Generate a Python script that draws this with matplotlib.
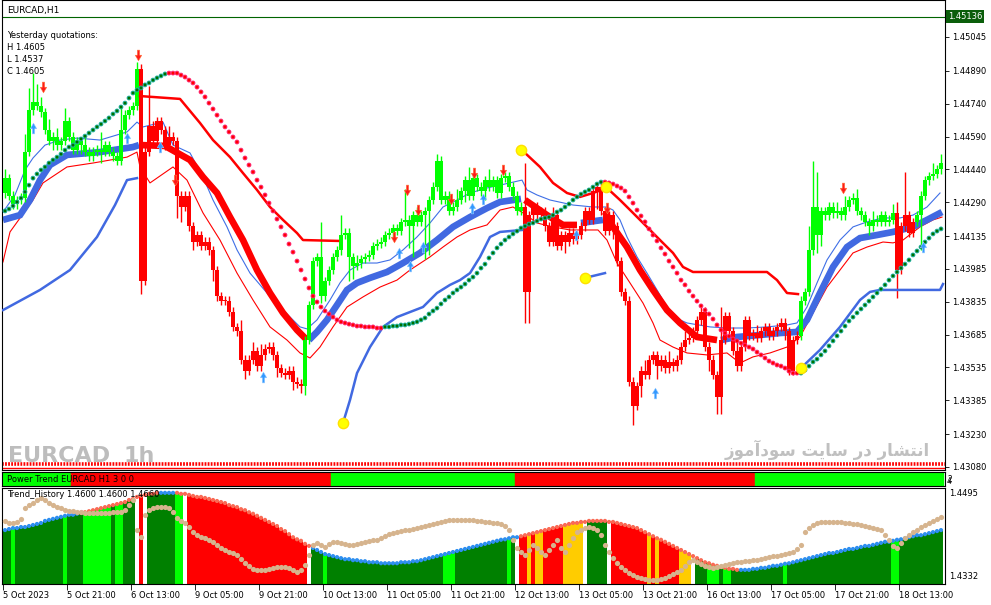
import matplotlib
matplotlib.use("Agg")
import matplotlib.pyplot as plt
from matplotlib.path import Path
import numpy as np

plt.rcParams['font.family'] = ['DejaVu Sans']

W, H = 991, 605

# ---------------- main chart data (EURCAD H1) ----------------
first_open = 1.4433
closes = [
    1.4440, 1.4432, 1.4428, 1.4430, 1.4431, 1.4452, 1.4471, 1.4475, 1.4473, 1.4470,
    1.4462, 1.4457, 1.4459, 1.4455, 1.4457, 1.4466, 1.4459, 1.4453, 1.4457, 1.4455,
    1.4452, 1.4450, 1.4452, 1.4453, 1.4452, 1.4455, 1.4452, 1.4450, 1.4448, 1.4462,
    1.4469, 1.4471, 1.4473, 1.4490, 1.4393, 1.4452, 1.4464, 1.4457, 1.4466, 1.4462,
    1.4455, 1.4459, 1.4457, 1.4432, 1.4427, 1.4432, 1.4418, 1.4411, 1.4414, 1.4409,
    1.4411, 1.4407, 1.4398, 1.4386, 1.4384, 1.4384, 1.4379, 1.4372, 1.4370, 1.4357,
    1.4352, 1.4357, 1.4361, 1.4354, 1.4359, 1.4362, 1.4363, 1.4359, 1.4353, 1.4351,
    1.4350, 1.4352, 1.4347, 1.4346, 1.4345, 1.4366, 1.4382, 1.4402, 1.4404, 1.4386,
    1.4393, 1.4398, 1.4404, 1.4407, 1.4414, 1.4415, 1.4404, 1.4400, 1.4401, 1.4403,
    1.4404, 1.4405, 1.4409, 1.4410, 1.4411, 1.4414, 1.4415, 1.4417, 1.4416, 1.4420,
    1.4421, 1.4418, 1.4423, 1.4420, 1.4423, 1.4425, 1.4430, 1.4436, 1.4448, 1.4430,
    1.4432, 1.4425, 1.4427, 1.4430, 1.4434, 1.4439, 1.4432, 1.4440, 1.4436, 1.4434,
    1.4439, 1.4436, 1.4439, 1.4433, 1.4440, 1.4441, 1.4436, 1.4432, 1.4425, 1.4427,
    1.4388, 1.4423, 1.4427, 1.4423, 1.4425, 1.4418, 1.4411, 1.4423, 1.4409, 1.4414,
    1.4411, 1.4415, 1.4412, 1.4414, 1.4418, 1.4425, 1.4421, 1.4434, 1.4436, 1.4425,
    1.4416, 1.4423, 1.4418, 1.4402, 1.4388, 1.4384, 1.4347, 1.4336, 1.4345, 1.4352,
    1.4350, 1.4357, 1.4359, 1.4354, 1.4357, 1.4353, 1.4356, 1.4354, 1.4357, 1.4363,
    1.4366, 1.4367, 1.4370, 1.4375, 1.4379, 1.4363, 1.4357, 1.4350, 1.4340, 1.4366,
    1.4377, 1.4370, 1.4361, 1.4354, 1.4363, 1.4375, 1.4368, 1.4369, 1.4367, 1.4370,
    1.4372, 1.4368, 1.4370, 1.4372, 1.4374, 1.4370, 1.4352, 1.4366, 1.4368, 1.4384,
    1.4388, 1.4407, 1.4427, 1.4414, 1.4425, 1.4423, 1.4427, 1.4424, 1.4425, 1.4423,
    1.4427, 1.4430, 1.4431, 1.4425, 1.4423, 1.4420, 1.4418, 1.4421, 1.4420, 1.4423,
    1.4420, 1.4421, 1.4424, 1.4398, 1.4418, 1.4423, 1.4415, 1.4420, 1.4423, 1.4432,
    1.4439, 1.4441, 1.4442, 1.4444, 1.4447,
]
# wick lengths in pips above / below the body
wick_up = [
    4, 2, 2, 2, 2, 8, 10, 13, 8, 4, 2, 5, 2, 4, 2, 6, 2, 2, 2, 2,
    4, 2, 2, 2, 8, 2, 2, 2, 2, 11, 2, 2, 2, 3, 2, 2, 18, 2, 2, 2,
    2, 5, 2, 2, 2, 2, 2, 2, 2, 2, 2, 2, 2, 2, 2, 2, 2, 2, 2, 5,
    2, 2, 4, 2, 5, 2, 2, 2, 2, 2, 2, 2, 2, 2, 2, 2, 2, 2, 2, 16,
    2, 2, 2, 2, 9, 2, 2, 2, 4, 2, 2, 2, 2, 2, 2, 2, 2, 2, 2, 2,
    14, 2, 2, 4, 2, 2, 2, 2, 3, 2, 2, 2, 2, 5, 2, 2, 6, 2, 2, 2,
    2, 5, 2, 2, 2, 2, 2, 2, 2, 2, 20, 2, 2, 2, 2, 2, 2, 4, 2, 2,
    2, 2, 2, 2, 2, 2, 2, 3, 2, 2, 2, 2, 2, 2, 2, 2, 2, 2, 2, 2,
    5, 2, 2, 2, 2, 2, 5, 2, 2, 2, 4, 2, 2, 2, 2, 2, 2, 2, 2, 15,
    2, 2, 2, 5, 2, 2, 2, 2, 4, 2, 2, 2, 2, 2, 2, 2, 2, 2, 2, 2,
    2, 11, 21, 16, 2, 2, 2, 2, 4, 2, 5, 2, 2, 4, 2, 2, 2, 4, 2, 2,
    2, 2, 4, 5, 2, 20, 2, 2, 2, 2, 2, 2, 5, 2, 4,
]
wick_dn = [
    2, 2, 2, 2, 2, 2, 2, 2, 2, 2, 2, 2, 4, 2, 2, 2, 2, 2, 2, 4,
    2, 2, 2, 2, 5, 2, 2, 2, 2, 2, 2, 2, 2, 2, 6, 2, 2, 2, 2, 2,
    2, 2, 2, 10, 7, 2, 2, 4, 2, 2, 2, 2, 5, 2, 2, 2, 2, 2, 2, 2,
    4, 2, 2, 2, 2, 2, 2, 2, 4, 2, 2, 2, 4, 2, 3, 4, 2, 2, 2, 3,
    2, 2, 2, 2, 2, 2, 11, 6, 2, 2, 2, 2, 2, 2, 2, 2, 2, 2, 2, 2,
    2, 10, 14, 2, 2, 20, 20, 2, 2, 2, 2, 2, 2, 2, 2, 5, 2, 2, 2, 2,
    4, 2, 2, 2, 2, 2, 2, 2, 2, 2, 14, 14, 2, 2, 2, 2, 2, 2, 2, 2,
    5, 2, 2, 2, 2, 2, 2, 2, 8, 2, 2, 2, 6, 2, 2, 2, 2, 9, 2, 5,
    2, 2, 2, 6, 2, 2, 2, 2, 2, 2, 2, 2, 2, 2, 2, 2, 5, 2, 8, 8,
    2, 2, 2, 2, 2, 2, 2, 2, 2, 2, 2, 2, 2, 2, 2, 4, 2, 2, 2, 2,
    2, 2, 2, 8, 5, 2, 2, 2, 2, 2, 2, 2, 2, 2, 2, 2, 4, 2, 2, 2,
    2, 2, 2, 13, 2, 2, 2, 2, 2, 16, 2, 2, 2, 2, 2,
]
candle_runs = [("g", 34), ("r", 41), ("g", 55), ("r", 69), ("g", 24), ("r", 5), ("g", 7)]

sar = [
    1.44250, 1.44259, 1.44273, 1.44291, 1.44309, 1.44337, 1.44368, 1.44400, 1.44419, 1.44437,
    1.44451, 1.44469, 1.44483, 1.44496, 1.44510, 1.44528, 1.44542, 1.44551, 1.44565, 1.44579,
    1.44592, 1.44606, 1.44620, 1.44634, 1.44647, 1.44661, 1.44675, 1.44693, 1.44707, 1.44725,
    1.44743, 1.44766, 1.44789, 1.44803, 1.44812, 1.44826, 1.44835, 1.44848, 1.44858, 1.44867,
    1.44876, 1.44880, 1.44880, 1.44880, 1.44871, 1.44862, 1.44848, 1.44835, 1.44816, 1.44794,
    1.44771, 1.44743, 1.44716, 1.44688, 1.44661, 1.44634, 1.44611, 1.44588, 1.44565,
    1.44528, 1.44492, 1.44460, 1.44428, 1.44391, 1.44359, 1.44323, 1.44286, 1.44250, 1.44213,
    1.44177, 1.44140, 1.44099, 1.44062, 1.44021, 1.43980, 1.43939, 1.43898, 1.43861, 1.43834,
    1.43811, 1.43793, 1.43779, 1.43765, 1.43752, 1.43743, 1.43738, 1.43733, 1.43729, 1.43724,
    1.43724, 1.43720, 1.43720, 1.43720, 1.43715, 1.43715,
    1.43720, 1.43720, 1.43724, 1.43724, 1.43729, 1.43729, 1.43733, 1.43738, 1.43743, 1.43752,
    1.43761, 1.43779, 1.43793, 1.43806, 1.43825, 1.43843, 1.43857, 1.43875, 1.43889, 1.43902,
    1.43916, 1.43934, 1.43948, 1.43966, 1.43989, 1.44007, 1.44035, 1.44058, 1.44081, 1.44099,
    1.44117, 1.44131, 1.44145, 1.44158, 1.44172, 1.44181, 1.44190, 1.44195, 1.44204, 1.44213,
    1.44218, 1.44222, 1.44231, 1.44245, 1.44254, 1.44268, 1.44282, 1.44300, 1.44314, 1.44327,
    1.44337, 1.44346, 1.44359, 1.44373, 1.44382,
    1.44382, 1.44378, 1.44373, 1.44364, 1.44355, 1.44341, 1.44314, 1.44286, 1.44254, 1.44227,
    1.44200, 1.44168, 1.44140, 1.44113, 1.44081, 1.44053, 1.44021, 1.43994, 1.43966, 1.43934,
    1.43912, 1.43884, 1.43861, 1.43838, 1.43816, 1.43797, 1.43779, 1.43756, 1.43729, 1.43706,
    1.43692, 1.43678, 1.43665, 1.43656, 1.43646, 1.43637, 1.43628, 1.43619, 1.43605, 1.43592,
    1.43578, 1.43564, 1.43555, 1.43546, 1.43541, 1.43532, 1.43518, 1.43509, 1.43509,
    1.43509, 1.43523, 1.43541, 1.43560, 1.43573, 1.43592, 1.43610, 1.43633, 1.43656, 1.43679,
    1.43701, 1.43724, 1.43747, 1.43765, 1.43784, 1.43802, 1.43820, 1.43838, 1.43857, 1.43875,
    1.43893, 1.43912, 1.43934, 1.43953, 1.43971, 1.43989, 1.44007, 1.44026, 1.44049, 1.44067,
    1.44085, 1.44108, 1.44126, 1.44145, 1.44158, 1.44168,
]
sar_runs = [("g", 41), ("r", 54), ("g", 55), ("r", 49), ("g", 36)]

# envelope lines (vertices: bar index, price)
thin_blue_x = [-0.5, 2.5, 5, 7, 10, 13.75, 18, 23.75, 30.5, 33, 34.5, 39.5, 42, 46.25, 49.5,
               52, 55.5, 58, 61.25, 65.5, 69.5, 73.75, 75.5, 78, 81.25, 83.75, 86.25, 89.5, 93,
               96.25, 99.5, 103, 106.25, 109.5, 113, 116.25, 120.5, 123.75, 129.25, 130.5, 133,
               136.25, 142, 147, 150.5, 152, 153.75, 155.5, 158, 160.5, 163, 165.5, 168.75, 170.5,
               176.25, 180.5, 185.5, 190.5, 195.5, 198, 200.5, 203, 205.5, 208.75, 212, 215.5,
               219.5, 223.75, 227, 230.5, 233.75]
thin_blue_y = [1.44245, 1.44323, 1.44437, 1.44492, 1.44551, 1.44574, 1.44583, 1.44574, 1.44611,
               1.44656, 1.44634, 1.44656, 1.44551, 1.44515, 1.44405, 1.44300, 1.44177, 1.44072,
               1.43966, 1.43875, 1.43797, 1.43720, 1.43711, 1.43752, 1.43843, 1.43921, 1.43980,
               1.44012, 1.44012, 1.44026, 1.44072, 1.44131, 1.44195, 1.44268, 1.44300, 1.44332,
               1.44355, 1.44368, 1.44391, 1.44346, 1.44323, 1.44300, 1.44277, 1.44268, 1.44268,
               1.44254, 1.44209, 1.44131, 1.44040, 1.43966, 1.43889, 1.43811, 1.43752, 1.43738,
               1.43720, 1.43715, 1.43715, 1.43720, 1.43729, 1.43738, 1.43811, 1.43921, 1.44026,
               1.44117, 1.44177, 1.44200, 1.44218, 1.44218, 1.44231, 1.44268, 1.44332]
thin_red_x = [-0.5, 1.25, 7, 9.5, 15.5, 22, 30.5, 33, 33.75, 36.25, 42, 45.5, 49.5, 53.75, 58,
              62, 66.25, 70.5, 73.75, 76.25, 78.75, 82, 85.5, 89.5, 93.75, 98, 101.25, 106.25,
              109.5, 113, 116.25, 120.5, 123.75, 127, 129.5, 133, 137, 141.25, 148.25, 150.5, 153,
              156.25, 159.5, 162, 163.75, 167, 170.5, 175.5, 180.5, 183.75, 187, 191.25, 195.5,
              198.75, 202, 205.5, 208.75, 212, 215.5, 219.5, 222, 224.5, 228.75, 232, 234.25]
thin_red_y = [1.44017, 1.44154, 1.44300, 1.44378, 1.44451, 1.44469, 1.44496, 1.44519, 1.44451,
              1.44378, 1.44451, 1.44391, 1.44241, 1.44117, 1.43966, 1.43843, 1.43720, 1.43660,
              1.43601, 1.43578, 1.43628, 1.43720, 1.43811, 1.43857, 1.43902, 1.43934, 1.43980,
              1.44040, 1.44085, 1.44131, 1.44163, 1.44186, 1.44254, 1.44268, 1.44241, 1.44195,
              1.44177, 1.44163, 1.44163, 1.44117, 1.44012, 1.43921, 1.43829, 1.43738, 1.43660,
              1.43628, 1.43601, 1.43592, 1.43601, 1.43555, 1.43583, 1.43601, 1.43628, 1.43674,
              1.43784, 1.43902, 1.43980, 1.44058, 1.44085, 1.44108, 1.44104, 1.44117, 1.44177,
              1.44209, 1.44222]

nan = float("nan")
band_x = [-0.5, 3.75, 6.25, 8.75, 11.25, 15.5, 23.75, 32, 33.5, nan,
          34, 40, 46.25, 49.5, 53, 56.25, 59.5, 63, 66.25, 69.5, 73, 75.5, nan,
          76, 78, 80.5, 83, 85.5, 88, 91.25, 95.5, 99.5, 103.75, 108, 112, 116.25, 120.5, 123.75, 129, nan,
          130, 135.5, 139.5, 143, nan,
          144, 149.5, nan,
          150, 152, 155.5, 158.75, 162, 165.5, 168.75, 173, 178, nan,
          179, 183, 188.75, 193.75, 198, 200.5, 203.75, 207, 210.5, 213.75, 218, 222, 227, 230.5, 234.25]
band_y = [1.44209, 1.44231, 1.44300, 1.44391, 1.44460, 1.44506, 1.44519, 1.44542, 1.44551, nan,
          1.44551, 1.44547, 1.44483, 1.44405, 1.44332, 1.44222, 1.44117, 1.43980, 1.43875, 1.43784,
          1.43706, 1.43660, nan,
          1.43660, 1.43697, 1.43752, 1.43820, 1.43889, 1.43921, 1.43944, 1.43971, 1.44012, 1.44058,
          1.44117, 1.44177, 1.44222, 1.44263, 1.44291, 1.44305, nan,
          1.44300, 1.44231, 1.44186, 1.44186, nan,
          1.44195, 1.44209, nan,
          1.44245, 1.44177, 1.44085, 1.43980, 1.43889, 1.43797, 1.43738, 1.43674, 1.43660, nan,
          1.43660, 1.43674, 1.43683, 1.43692, 1.43697, 1.43752, 1.43875, 1.43994, 1.44085, 1.44126,
          1.44140, 1.44154, 1.44177, 1.44209, 1.44245]
band_colors = ["b", "r", "b", "r", "b", "r", "b"]

stop_hi_x = [33.75, 43.75, 48.75, 52, 56.25, 59.5, 63, 66.25, 69.5, 73, 74.5, 83.25, nan,
             130, 133.75, 137, 140.5, 143.75, 147, 150.5, 153.75, 157, 160.5, 163.75, 167, 169.5,
             172, 190.5, 193, 195.5, 198.25]
stop_hi_y = [1.44775, 1.44762, 1.44652, 1.44574, 1.44496, 1.44423, 1.44346, 1.44268, 1.44209,
             1.44149, 1.44117, 1.44113, nan,
             1.44515, 1.44451, 1.44378, 1.44332, 1.44314, 1.44332, 1.44355, 1.44300, 1.44241,
             1.44177, 1.44117, 1.44058, 1.43994, 1.43971, 1.43971, 1.43934, 1.43875, 1.43870]
stop_lo_x = [-0.5, 8.75, 16.25, 23, 27.5, 30.5, 33, nan,
             84.5, 86.25, 88, 91.25, 94.5, 98, 101.25, 104.5, 108, 111.25, 113.75, 116.25, 118.75,
             121.25, 123.75, 129.25, nan, 145, 150, nan,
             199, 203.75, 208.75, 213.75, 216.25, 218.75, 233.75, 234.5]
stop_lo_y = [1.43797, 1.43889, 1.43980, 1.44131, 1.44277, 1.44391, 1.44400, nan,
             1.43281, 1.43386, 1.43509, 1.43628, 1.43720, 1.43765, 1.43788, 1.43811, 1.43875,
             1.43912, 1.43934, 1.43966, 1.44040, 1.44131, 1.44154, 1.44163, nan,
             1.43944, 1.43966, nan,
             1.43532, 1.43615, 1.43720, 1.43843, 1.43880, 1.43889, 1.43889, 1.43916]

signal_x = [84.5, 129, 145, 150.25, 199]
signal_y = [1.43281, 1.44529, 1.43944, 1.44359, 1.43532]

arrow_dn_x = [9.5, 33.25, 42.5, 97.25, 100.5, 103.25, 111.5, 117.25, 124.5, 150.5, 209.5]
arrow_dn_y = [1.44816, 1.44963, 1.44391, 1.44131, 1.44346, 1.44254, 1.44305, 1.44423, 1.44437,
              1.44263, 1.44355]
arrow_up_x = [7, 30.5, 38.75, 64.5, 98.5, 101.25, 104.5, 116.75, 119.5, 142.75, 162.5, 229.5]
arrow_up_y = [1.44629, 1.44583, 1.44542, 1.43491, 1.44058, 1.43999, 1.44085, 1.44263, 1.44305,
              1.44140, 1.43418, 1.44085]

bid = 1.45136
price_ticks = [1.45045, 1.44890, 1.44740, 1.44590, 1.44440, 1.44290, 1.44135,
               1.43985, 1.43835, 1.43685, 1.43535, 1.43385, 1.43230, 1.43080]

# ---------------- Power Trend panel ----------------
pt_runs = [("g", 17), ("r", 65), ("g", 46), ("r", 60), ("g", 47)]

# ---------------- Trend_History panel ----------------
th_runs = [("G", 2), ("L", 1), ("G", 12), ("L", 1), ("G", 4), ("L", 7), ("G", 1), ("L", 2),
           ("G", 3), ("W", 1), ("R", 1), ("W", 1), ("G", 7), ("L", 2), ("W", 1), ("R", 30),
           ("W", 1), ("G", 3), ("L", 1), ("G", 29), ("L", 3), ("G", 13), ("L", 1), ("G", 1),
           ("W", 1), ("R", 2), ("Y", 1), ("R", 1), ("Y", 2), ("R", 5), ("Y", 5), ("W", 1),
           ("G", 5), ("W", 1), ("R", 9), ("Y", 1), ("R", 1), ("Y", 1), ("R", 5), ("Y", 3),
           ("W", 1), ("G", 3), ("L", 3), ("G", 1), ("L", 2), ("G", 13), ("L", 1), ("G", 26),
           ("L", 2), ("G", 11)]
th_level = [
    1.4422, 1.4424, 1.4426, 1.4426, 1.4428, 1.4428, 1.4430, 1.4432, 1.4434, 1.4436,
    1.4440, 1.4442, 1.4444, 1.4446, 1.4448, 1.4450, 1.4452, 1.4452, 1.4454, 1.4456,
    1.4457, 1.4459, 1.4461, 1.4463, 1.4465, 1.4467, 1.4469, 1.4471, 1.4473, 1.4475,
    1.4477, 1.4481, 1.4483, 1.4487, 1.4489, 1.4491, 1.4493, 1.4493, 1.4495, 1.4495,
    1.4495, 1.4495, 1.4495, 1.4495, 1.4493, 1.4493, 1.4491, 1.4489, 1.4487, 1.4487,
    1.4485, 1.4483, 1.4481, 1.4479, 1.4477, 1.4475, 1.4471, 1.4469, 1.4467, 1.4463,
    1.4461, 1.4457, 1.4454, 1.4450, 1.4446, 1.4442, 1.4438, 1.4434, 1.4430, 1.4424,
    1.4420, 1.4414, 1.4408, 1.4404, 1.4401, 1.4395, 1.4391, 1.4387, 1.4383, 1.4379,
    1.4375, 1.4373, 1.4371, 1.4369, 1.4367, 1.4365, 1.4365, 1.4363, 1.4363, 1.4361,
    1.4361, 1.4359, 1.4359, 1.4359, 1.4357, 1.4357, 1.4357, 1.4357, 1.4357, 1.4359,
    1.4359, 1.4359, 1.4361, 1.4361, 1.4363, 1.4365, 1.4367, 1.4369, 1.4371, 1.4373,
    1.4375, 1.4377, 1.4379, 1.4381, 1.4383, 1.4385, 1.4387, 1.4389, 1.4391, 1.4393,
    1.4395, 1.4397, 1.4399, 1.4401, 1.4403, 1.4404, 1.4406, 1.4408, 1.4408, 1.4410,
    1.4412, 1.4414, 1.4416, 1.4418, 1.4420, 1.4422, 1.4424, 1.4426, 1.4428, 1.4430,
    1.4432, 1.4434, 1.4436, 1.4436, 1.4438, 1.4438, 1.4440, 1.4440, 1.4440, 1.4440,
    1.4440, 1.4438, 1.4438, 1.4436, 1.4434, 1.4432, 1.4430, 1.4428, 1.4426, 1.4422,
    1.4418, 1.4414, 1.4410, 1.4406, 1.4403, 1.4399, 1.4395, 1.4391, 1.4387, 1.4383,
    1.4379, 1.4375, 1.4371, 1.4367, 1.4363, 1.4359, 1.4357, 1.4354, 1.4352, 1.4350,
    1.4348, 1.4346, 1.4346, 1.4344, 1.4344, 1.4344, 1.4344, 1.4346, 1.4346, 1.4348,
    1.4348, 1.4350, 1.4352, 1.4352, 1.4354, 1.4356, 1.4357, 1.4359, 1.4361, 1.4363,
    1.4365, 1.4367, 1.4369, 1.4371, 1.4373, 1.4375, 1.4377, 1.4377, 1.4379, 1.4381,
    1.4383, 1.4385, 1.4385, 1.4387, 1.4389, 1.4391, 1.4391, 1.4393, 1.4395, 1.4397,
    1.4399, 1.4399, 1.4401, 1.4403, 1.4404, 1.4406, 1.4408, 1.4410, 1.4412, 1.4412,
    1.4414, 1.4416, 1.4418, 1.4420, 1.4422,
]
th_dot_runs = [("b", 19), ("s", 20), ("b", 4), ("s", 34), ("b", 52), ("s", 55), ("b", 51)]
th_price = [
    1.4440, 1.4436, 1.4436, 1.4438, 1.4444, 1.4465, 1.4471, 1.4475, 1.4481, 1.4485,
    1.4481, 1.4475, 1.4471, 1.4467, 1.4465, 1.4461, 1.4459, 1.4459, 1.4457, 1.4457,
    1.4456, 1.4456, 1.4456, 1.4456, 1.4456, 1.4456, 1.4456, 1.4457, 1.4457, 1.4457,
    1.4461, 1.4471, 1.4481, 1.4422, 1.4408, 1.4452, 1.4461, 1.4465, 1.4467, 1.4467,
    1.4467, 1.4465, 1.4457, 1.4446, 1.4440, 1.4436, 1.4428, 1.4418, 1.4412, 1.4408,
    1.4406, 1.4403, 1.4399, 1.4393, 1.4387, 1.4383, 1.4379, 1.4377, 1.4373, 1.4365,
    1.4357, 1.4352, 1.4346, 1.4344, 1.4344, 1.4344, 1.4346, 1.4348, 1.4350, 1.4350,
    1.4350, 1.4348, 1.4344, 1.4340, 1.4344, 1.4354, 1.4373, 1.4393, 1.4397, 1.4393,
    1.4389, 1.4395, 1.4399, 1.4399, 1.4397, 1.4395, 1.4393, 1.4393, 1.4395, 1.4397,
    1.4399, 1.4401, 1.4403, 1.4403, 1.4406, 1.4410, 1.4414, 1.4416, 1.4418, 1.4420,
    1.4422, 1.4422, 1.4424, 1.4426, 1.4428, 1.4430, 1.4432, 1.4434, 1.4436, 1.4438,
    1.4440, 1.4442, 1.4442, 1.4442, 1.4442, 1.4442, 1.4442, 1.4442, 1.4440, 1.4440,
    1.4438, 1.4438, 1.4436, 1.4436, 1.4434, 1.4430, 1.4422, 1.4403, 1.4387, 1.4379,
    1.4373, 1.4383, 1.4393, 1.4387, 1.4379, 1.4373, 1.4383, 1.4393, 1.4403, 1.4387,
    1.4379, 1.4393, 1.4406, 1.4418, 1.4422, 1.4426, 1.4428, 1.4426, 1.4422, 1.4412,
    1.4393, 1.4379, 1.4367, 1.4357, 1.4350, 1.4344, 1.4338, 1.4334, 1.4330, 1.4328,
    1.4326, 1.4324, 1.4324, 1.4324, 1.4326, 1.4328, 1.4332, 1.4336, 1.4340, 1.4344,
    1.4352, 1.4359, 1.4363, 1.4359, 1.4356, 1.4352, 1.4350, 1.4348, 1.4350, 1.4352,
    1.4354, 1.4356, 1.4357, 1.4359, 1.4359, 1.4361, 1.4361, 1.4363, 1.4363, 1.4365,
    1.4367, 1.4369, 1.4371, 1.4371, 1.4373, 1.4375, 1.4377, 1.4379, 1.4385, 1.4393,
    1.4418, 1.4426, 1.4432, 1.4436, 1.4438, 1.4438, 1.4438, 1.4438, 1.4438, 1.4438,
    1.4436, 1.4436, 1.4434, 1.4434, 1.4432, 1.4430, 1.4428, 1.4426, 1.4424, 1.4422,
    1.4412, 1.4403, 1.4391, 1.4387, 1.4397, 1.4406, 1.4412, 1.4418, 1.4422, 1.4428,
    1.4432, 1.4436, 1.4440, 1.4444, 1.4448,
]

time_tick_bars = [0, 16, 32, 48, 64, 80, 96, 112, 128, 144, 160, 176, 192, 208, 224]
time_labels = ["5 Oct 2023", "5 Oct 21:00", "6 Oct 13:00", "9 Oct 05:00", "9 Oct 21:00",
               "10 Oct 13:00", "11 Oct 05:00", "11 Oct 21:00", "12 Oct 13:00", "13 Oct 05:00",
               "13 Oct 21:00", "16 Oct 13:00", "17 Oct 05:00", "17 Oct 21:00", "18 Oct 13:00"]


def runs(spec):
    out = []
    for c, n in spec:
        out += [c] * n
    return out


def box(x0, y0, x1, y1):
    # pixel box -> figure fraction
    return [x0 / W, 1 - y1 / H, (x1 - x0) / W, (y1 - y0) / H]


def frame(a):
    for s in a.spines.values():
        s.set_color("black")
        s.set_linewidth(0.8)


fig = plt.figure(figsize=(W / 100, H / 100), dpi=100)
XL = (-0.75, 235.0)

# ===== main chart =====
ax = fig.add_axes(box(2, 0, 945, 470))
ax.set_xlim(*XL)
ax.set_ylim(1.430661, 1.452140)
frame(ax)

n = len(closes)
xs = np.arange(n)
opens = np.array([first_open] + closes[:-1])
cl = np.array(closes)
top = np.maximum(opens, cl)
bot = np.minimum(opens, cl)
hi = top + np.array(wick_up) * 0.0001
lo = bot - np.array(wick_dn) * 0.0001
ccol = ["#00ff00" if c == "g" else "#ff0000" for c in runs(candle_runs)]

ax.plot(thin_blue_x, thin_blue_y, color="#3f6fe6", lw=0.8, zorder=1)
ax.plot(thin_red_x, thin_red_y, color="#ff0000", lw=0.8, zorder=1)

# thick trend band, split into coloured pieces
bx, by = np.array(band_x), np.array(band_y)
breaks = np.where(np.isnan(bx))[0]
starts = np.r_[0, breaks + 1]
ends = np.r_[breaks, len(bx)]
for s, e, c in zip(starts, ends, band_colors):
    ax.plot(bx[s:e], by[s:e], color="#4169e1" if c == "b" else "#ff0000",
            lw=4.8, solid_capstyle="butt", solid_joinstyle="miter", zorder=2)

ax.vlines(xs, lo, hi, colors=ccol, lw=1, zorder=3)
ax.bar(xs, np.maximum(top - bot, 0.00003), bottom=bot, width=0.78, color=ccol,
       linewidth=0, zorder=3)

ax.plot(stop_hi_x, stop_hi_y, color="#ff0000", lw=1.8, zorder=4)
ax.plot(stop_lo_x, stop_lo_y, color="#4169e1", lw=1.8, zorder=4)

sc = runs(sar_runs)
ax.scatter(xs, sar, s=8, zorder=5, linewidths=0.6,
           c=["#007000" if c == "g" else "#ff0000" for c in sc],
           edgecolors=["#22b8b0" if c == "g" else "#ff2a80" for c in sc])

ax.scatter(signal_x, signal_y, s=55, color="#ffff00", edgecolors="#ffe000", zorder=7)

dn_path = Path([(-0.22, 1), (0.22, 1), (0.22, 0.05), (0.6, 0.05), (0, -1), (-0.6, 0.05),
                (-0.22, 0.05), (-0.22, 1)], closed=True)
up_path = Path([(x, -y) for x, y in dn_path.vertices], closed=True)
ax.scatter(arrow_dn_x, arrow_dn_y, marker=dn_path, s=60, color="#ff1a1a",
           edgecolors="#ff7a40", linewidths=0.4, zorder=6)
ax.scatter(arrow_up_x, arrow_up_y, marker=up_path, s=60, color="#3399ff",
           edgecolors="#99ccff", linewidths=0.4, zorder=6)

ax.axhline(bid, color="#006400", lw=0.8, zorder=1)
# bottom signal row
ax.axhline(1.43092, color="#ff0000", lw=2.6, dashes=(0.5, 0.35), zorder=2)
ax.axhline(1.43076, color="#ff0000", lw=1.0, zorder=2)

ax.yaxis.tick_right()
ax.set_yticks(price_ticks)
ax.set_yticklabels(["%.5f" % v for v in price_ticks], fontsize=6)
ax.tick_params(axis="y", direction="out", length=3, width=0.6, pad=2)
ax.tick_params(axis="x", bottom=False, labelbottom=False)

# ===== Power Trend panel =====
ax2 = fig.add_axes(box(2, 472, 945, 486))
ax2.set_xlim(*XL)
ax2.set_ylim(0, 1)
frame(ax2)
pos = 0
for c, k in pt_runs:
    ax2.broken_barh([(pos - 0.5, k)], (0, 1), color="#00ff00" if c == "g" else "#ff0000")
    pos += k
ax2.set_xticks([])
ax2.set_yticks([])
ax2.text(0.005, 0.45, "Power Trend EURCAD H1 3 0 0", transform=ax2.transAxes,
         fontsize=6, va="center", ha="left", color="black")
fig.text(947 / W, 1 - 480 / H, "2", fontsize=5.5, va="center", color="black")
fig.text(947 / W, 1 - 481 / H, "4", fontsize=5.5, va="center", color="black")

# ===== Trend_History panel =====
ax3 = fig.add_axes(box(2, 488, 945, 584))
ax3.set_xlim(*XL)
base = 1.431632
ax3.set_ylim(base, 1.450448)
frame(ax3)
hmap = {"G": "#008000", "L": "#00ff00", "R": "#ff0000", "Y": "#ffcc00", "W": "#ffffff"}
lvl = np.array(th_level)
ax3.bar(xs, lvl - base, bottom=base, width=1.0, linewidth=0,
        color=[hmap[c] for c in runs(th_runs)], zorder=1)
ax3.scatter(xs, lvl, s=9, linewidths=0, zorder=3,
            c=["#2e8ff0" if c == "b" else "#fa6a55" for c in runs(th_dot_runs)])
ax3.scatter(xs, th_price, s=14, linewidths=0, color="#d6b48e", zorder=4)
ax3.text(0.005, 0.93, "Trend_History 1.4600 1.4600 1.4660", transform=ax3.transAxes,
         fontsize=6, va="center", ha="left", color="black", zorder=6)
ax3.yaxis.tick_right()
ax3.set_yticks([1.4495, 1.4332])
ax3.set_yticklabels(["1.4495", "1.4332"], fontsize=6)
ax3.tick_params(axis="y", length=0, pad=3)
ax3.set_xticks([b - 0.5 for b in time_tick_bars])
ax3.set_xticklabels(time_labels, fontsize=6, ha="left")
ax3.tick_params(axis="x", direction="out", length=4, width=0.6, pad=1)

# ===== texts =====
fig.text(7 / W, 1 - 11 / H, "EURCAD,H1", fontsize=6.5, va="center")
fig.text(7 / W, 1 - 36 / H, "Yesterday quotations:", fontsize=6, va="center")
fig.text(7 / W, 1 - 47.5 / H, "H 1.4605", fontsize=6, va="center")
fig.text(7 / W, 1 - 59.5 / H, "L 1.4537", fontsize=6, va="center")
fig.text(7 / W, 1 - 71 / H, "C 1.4605", fontsize=6, va="center")
fig.text(948 / W, 1 - 16.5 / H, "1.45136", fontsize=6, va="center", color="white",
         bbox=dict(facecolor="#0b5e0b", edgecolor="none", pad=1.2))

fig.text(8 / W, 1 - 462 / H, "EURCAD", fontsize=16, weight="bold", color="#bdbdbd",
         family=["DejaVu Sans"], va="baseline")
fig.text(123 / W, 1 - 462 / H, "1h", fontsize=16, weight="bold", color="#bdbdbd",
         family=["DejaVu Sans"], va="baseline")
persian = ("\uFEAF\uFEEE\uFEE3\uFE81\uFEA9\uFEEE\uFEB3 \uFE96\uFEF3\uFE8E\uFEB3 "
           "\uFEAD\uFEA9 \uFEAD\uFE8E\uFEB8\uFE98\uFEE7\uFE8D")
fig.text(930 / W, 1 - 450 / H, persian, fontsize=12, weight="bold", color="#c0c0c0",
         ha="right", va="center", family=["DejaVu Sans"])

fig.savefig("out.png", dpi=100, facecolor="white")
